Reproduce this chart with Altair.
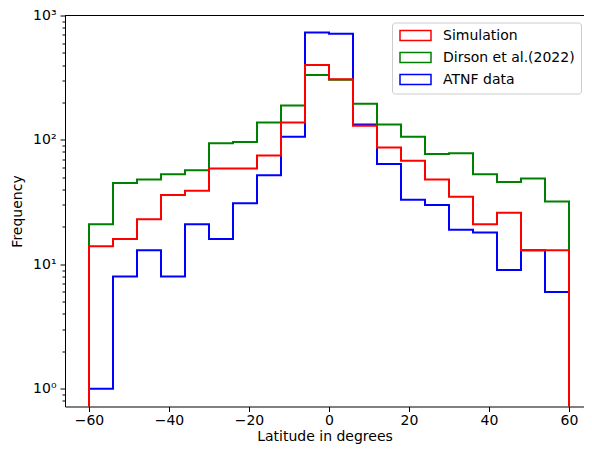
import altair as alt
import pandas as pd

# Histogram bin edges (degrees of latitude)
edges = [-60, -54, -48, -42, -36, -30, -24, -18, -12, -6, 0,
         6, 12, 18, 24, 30, 36, 42, 48, 54, 60]

# Counts per bin
simulation = [14, 16, 23, 36, 39, 59, 59, 75, 138, 400,
              307, 130, 87, 68, 48, 35, 21, 26, 13, 13]
dirson = [21, 45, 48, 53, 57, 94, 96, 138, 189, 333,
          304, 195, 133, 106, 77, 78, 53, 46, 49, 32]
atnf = [1, 8, 13, 8, 21, 16, 31, 52, 106, 731,
        713, 133, 64, 33, 30, 19, 18, 9, 13, 6]

series_names = ["Simulation", "Dirson et al.(2022)", "ATNF data"]
series_colors = ["red", "green", "blue"]

x_ticks = [-60, -40, -20, 0, 20, 40, 60]
y_major = [1, 10, 100, 1000]
y_minor = [0.8, 0.9, 2, 3, 4, 5, 6, 7, 8, 9, 20, 30, 40, 50, 60, 70, 80, 90,
           200, 300, 400, 500, 600, 700, 800, 900]

EMPTY = 0.01  # stands in for the zero count outside the binned range (clipped)


def step_rows(name, counts):
    rows = [{"series": name, "lat": edges[0], "freq": EMPTY, "k": 0}]
    for i, c in enumerate(counts):
        rows.append({"series": name, "lat": edges[i], "freq": c, "k": i + 1})
    rows.append({"series": name, "lat": edges[-1], "freq": counts[-1], "k": len(counts) + 1})
    rows.append({"series": name, "lat": edges[-1], "freq": EMPTY, "k": len(counts) + 2})
    return pd.DataFrame(rows)


W, H = 519, 391

x_enc = alt.X(
    "lat:Q",
    scale=alt.Scale(domain=[-66, 63.75], nice=False, zero=False),
    axis=alt.Axis(values=x_ticks, title="Latitude in degrees", grid=False,
                  tickSize=5, labelPadding=2, titlePadding=2,
                  labelExpr="replace(datum.label, '-', '\u2212')"),
)
maj = "indexof([1,10,100,1000], datum.value)"
y_enc = alt.Y(
    "freq:Q",
    scale=alt.Scale(type="log", domain=[0.72, 1000], nice=False),
    axis=alt.Axis(values=y_major + y_minor, title="Frequency", grid=False,
                  labelExpr=f"{maj} >= 0 ? '10' + ['\u2070','\u00b9','\u00b2','\u00b3'][{maj}] : ''",
                  tickSize={"condition": {"test": f"{maj} >= 0", "value": 5}, "value": 3},
                  labelPadding=4, titlePadding=8, labelOverlap=False),
)
color_enc = alt.Color(
    "series:N",
    scale=alt.Scale(domain=series_names, range=series_colors),
    legend=alt.Legend(
        title=None, orient="none", legendX=327, legendY=7,
        symbolType="M-1,-1L5.2,-1L5.2,1L-1,1Z", symbolSize=100,
        symbolStrokeWidth=1.5, labelOffset=31, rowPadding=6, padding=6,
        labelFont="DejaVu Sans", labelFontSize=14, labelColor="black",
        strokeColor="#cccccc", fillColor="white", cornerRadius=3,
    ),
)


def layer(name, counts):
    return alt.Chart(step_rows(name, counts)).mark_line(
        interpolate="step-after", strokeWidth=2, clip=True
    ).encode(x=x_enc, y=y_enc, color=color_enc, order="k:Q")


top_spine = alt.Chart(pd.DataFrame({"a": [0]})).mark_rule(
    color="black", strokeWidth=1
).encode(x=alt.value(0), x2=alt.value(W), y=alt.value(0))

chart = alt.layer(
    layer(series_names[2], atnf),
    layer(series_names[1], dirson),
    layer(series_names[0], simulation),
    top_spine,
).properties(
    width=W, height=H,
    autosize=alt.AutoSizeParams(type="none"),
    padding={"left": 57, "top": 7.5, "right": 0, "bottom": 40.5},
).configure_view(stroke="transparent").configure_axis(
    labelFont="DejaVu Sans", labelFontSize=14, labelColor="black",
    titleFont="DejaVu Sans", titleFontSize=14, titleFontWeight="normal", titleColor="black",
    tickColor="black", domainColor="black", domainWidth=1, tickWidth=1,
)

chart.save("out.html", embed_options={"renderer": "svg", "actions": False})
